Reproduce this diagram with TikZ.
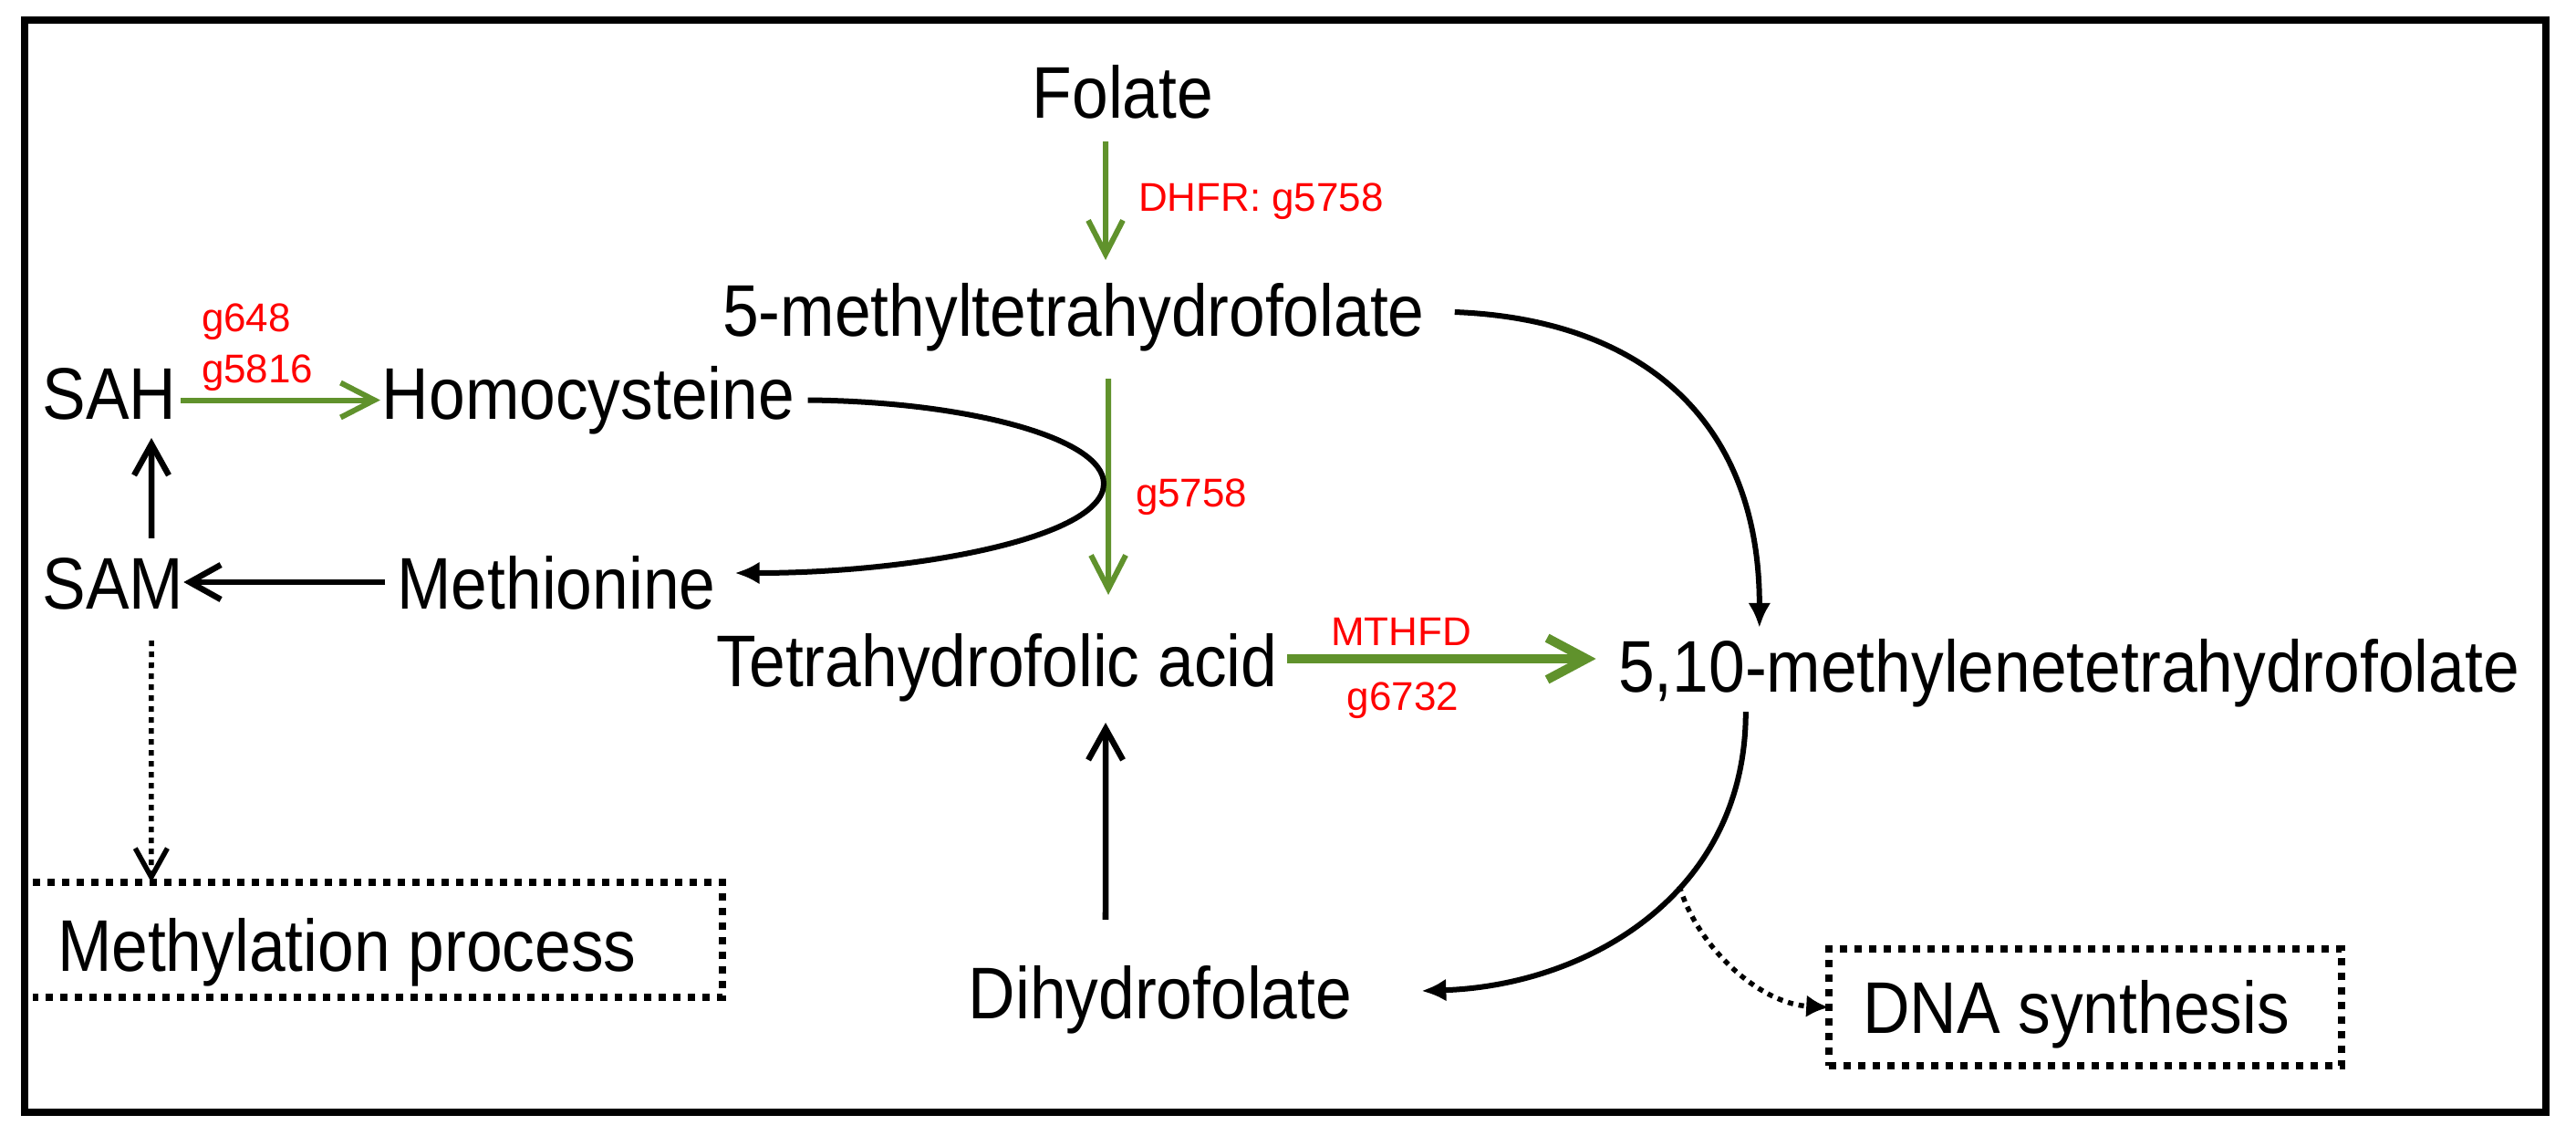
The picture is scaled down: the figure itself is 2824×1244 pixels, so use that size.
\documentclass[tikz,border=0pt]{standalone}
\usepackage{fontspec}
\setmainfont{Liberation Sans}
\newfontfamily\narrowf{Liberation Sans}[FakeStretch=0.89]
\usetikzlibrary{arrows.meta}
\definecolor{pathgreen}{RGB}{96,146,44}
\definecolor{genered}{RGB}{255,0,0}
\begin{document}
\begin{tikzpicture}[x=0.01cm,y=-0.01cm,
  metab/.style={font=\narrowf\fontsize{22.8pt}{27pt}\selectfont, inner sep=0, outer sep=0, text height=0.58cm, text depth=0.17cm, anchor=base},
  gene/.style={font=\fontsize{12.5pt}{15pt}\selectfont, text=genered, inner sep=0, outer sep=0, anchor=base west},
  thinG/.style={draw=pathgreen, line width=0.06cm, -{Straight Barb[length=10.5pt,width=10.8pt]}},
  thickG/.style={draw=pathgreen, line width=0.10cm, -{Straight Barb[length=12.2pt,width=13pt]}},
  blk/.style={line width=0.065cm, -{Straight Barb[length=9.7pt,width=10.8pt]}},
  crv/.style={line width=0.06cm, -{Latex[length=7.7pt,width=7.1pt]}},
  dotarrow/.style={line width=0.055cm, dash pattern=on 0.06cm off 0.06cm},
  dotbox/.style={line width=0.075cm, dash pattern=on 0.08cm off 0.08cm}
]
\useasboundingbox (0,0) rectangle (2824,1244);
\draw[line width=0.08cm] (27,22) rectangle (2791,1219);

% metabolites
\node[metab] (folate) at (1231,129) {Folate};
\node[metab] (m5) at (1177,368) {5-methyltetrahydrofolate};
\node[metab] (sah) at (120,459) {SAH};
\node[metab] (homo) at (645,459) {Homocysteine};
\node[metab] (sam) at (124,667) {SAM};
\node[metab] (meth) at (610,667) {Methionine};
\node[metab] (thf) at (1093,752) {Tetrahydrofolic acid};
\node[metab] (mthf) at (2268,758) {5,10-methylenetetrahydrofolate};
\node[metab] (dhf) at (1272,1116) {Dihydrofolate};

% outcome boxes
\node[inner sep=0, outer sep=0, minimum width=7.56cm, minimum height=1.26cm] (methbox) at (414,1030) {};
\draw[dotbox] (methbox.north west) -- (methbox.north east) -- (methbox.south east) -- (methbox.south west);
\node[metab, anchor=base west] (methtxt) at (63,1064) {Methylation process};
\node[draw, dotbox, inner sep=0, outer sep=0, minimum width=5.62cm, minimum height=1.28cm] (dnabox) at (2286,1104) {};
\node[metab] (dnatxt) at (2276,1132) {DNA synthesis};

% gene labels
\node[gene] (dhfr) at (1248,231) {DHFR: g5758};
\node[gene] (g648) at (221,363) {g648};
\node[gene] (g5816) at (221,419) {g5816};
\node[gene] (g5758) at (1245,555) {g5758};
\node[gene, anchor=base] (mthfd) at (1536,707) {MTHFD};
\node[gene, anchor=base] (g6732) at (1538,778) {g6732};

% green arrows
\draw[thinG, shorten <=0.09cm, shorten >=0.25cm] ([xshift=-0.19cm]folate.south) -- ([xshift=0.35cm]m5.north);
\draw[thinG, shorten <=0.30cm, shorten >=0.42cm] ([xshift=0.38cm]m5.south) -- ([xshift=1.22cm]thf.north);
\draw[thinG, shorten <=0.05cm, shorten >=0.02cm] (sah.east) -- (homo.west);
\draw[thickG, shorten <=0.105cm, shorten >=0.245cm] ([yshift=0.095cm]thf.east) -- ([yshift=0.095cm]thf.east -| mthf.west);

% black straight arrows
\draw[blk, shorten <=0.13cm] ([yshift=0.085cm]meth.west) -- ([yshift=0.085cm]meth.west -| sam.east);
\draw[blk, shorten <=0.19cm, shorten >=0.04cm] ([xshift=0.42cm]sam.north) -- ([xshift=0.46cm]sah.south);
\draw[blk, shorten <=0.50cm, shorten >=0.23cm] ([xshift=-0.60cm]dhf.north) -- ([xshift=1.19cm]thf.south);

% curved arrows
\draw[crv] ([xshift=0.145cm]homo.east) .. controls (1060,440) and (1210,480) .. (1210,530)
  .. controls (1210,590) and (1000,628) .. ([xshift=0.21cm,yshift=0.185cm]meth.east);
\draw[crv, shorten >=0.12cm] ([xshift=0.33cm,yshift=0.055cm]m5.east) .. controls (1800,350) and (1929,460) .. ([xshift=-3.39cm]mthf.north);
\draw[crv, shorten <=0.05cm] ([xshift=-3.54cm]mthf.south) .. controls (1914,980) and (1740,1080) .. coordinate[pos=0.4] (branch) ([xshift=0.76cm,yshift=0.095cm]dhf.east);

% dotted arrows
\draw[dotarrow, -{Straight Barb[length=9pt,width=10pt]}, shorten <=0.18cm] ([xshift=0.42cm]sam.south) -- ([xshift=-2.48cm]methbox.north);
\draw[dotarrow, -{Latex[length=7pt,width=7pt]}] (branch) .. controls (1862,1040) and (1930,1100) .. (dnabox.west);
\end{tikzpicture}
\end{document}
